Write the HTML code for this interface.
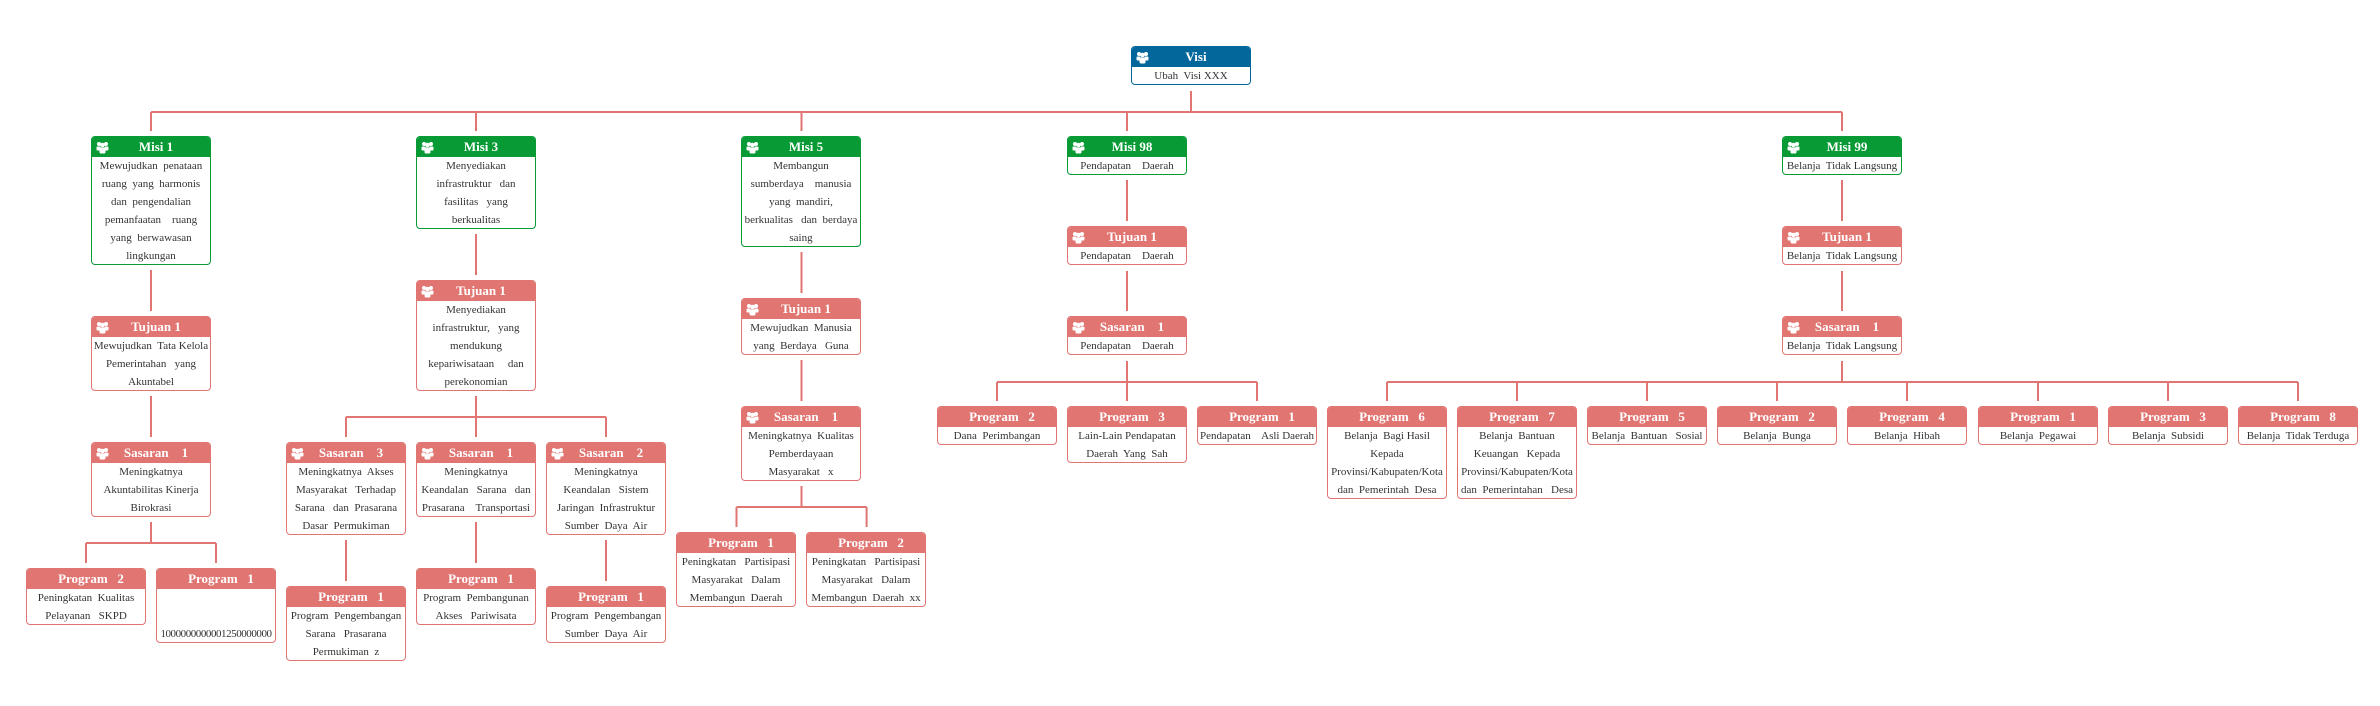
<!DOCTYPE html>
<html><head><meta charset="utf-8"><style>
html,body{margin:0;padding:0;background:#fff;}
body{width:2380px;height:706px;position:relative;overflow:hidden;font-family:"Liberation Serif",serif;}
.b{position:absolute;width:120px;box-sizing:border-box;border:1px solid #e07572;border-radius:4px;background:#fff;overflow:hidden;}
.h{height:20px;background:#e07572;color:#fff;font-weight:bold;font-size:13px;line-height:20px;text-align:center;position:relative;white-space:pre;padding-left:10px;}
.g{border-color:#079a35}.g .h{background:#079a35}
.v{border-color:#03679c}.v .h{background:#03679c}
.h svg{position:absolute;left:4px;top:4px}
.t{font-size:11px;line-height:18px;color:#333;text-align:center;white-space:pre;}
</style></head><body>
<svg width="2380" height="706" style="position:absolute;left:0;top:0" stroke="#e07572" stroke-width="2" fill="none">
<path d="M1191 91V112M151 112H1842M151 112V131M476 112V131M801.5 112V131M1127 112V131M1842 112V131"/>
<path d="M151 270V311M151 396V437M151 522V543M86 543H216M86 543V563M216 543V563"/>
<path d="M476 234V275M476 396V417M346 417H606M346 417V437M476 417V437M606 417V437M346 540V581M476 522V563M606 540V581"/>
<path d="M801.5 252V293M801.5 360V401M801.5 486V507M736.5 507H866.6M736.5 507V527M866.6 507V527"/>
<path d="M1127 180V221M1127 271V311M1127 361V382M997 382H1257M997 382V401M1127 382V401M1257 382V401"/>
<path d="M1842 180V221M1842 271V311M1842 361V382M1387 382H2298M1387 382V401M1517 382V401M1647 382V401M1777 382V401M1907 382V401M2038 382V401M2168 382V401M2298 382V401"/>
</svg>
<svg width="0" height="0" style="position:absolute"><defs><g id="ic" fill="#fff"><circle cx="3" cy="3" r="2"/><circle cx="10" cy="3" r="2"/><circle cx="6.5" cy="4" r="2.3"/><rect x="0.5" y="5.5" width="4" height="4" rx="1"/><rect x="8.5" y="5.5" width="4" height="4" rx="1"/><rect x="3.5" y="6.5" width="6" height="6" rx="1.5"/></g></defs></svg>

<div class="b v" style="left:1131px;top:46px;height:39px"><div class="h"><svg width="13" height="13"><use href="#ic"/></svg>Visi</div><div class="t">Ubah  Visi XXX</div></div>

<div class="b g" style="left:91px;top:136px;height:129px"><div class="h"><svg width="13" height="13"><use href="#ic"/></svg>Misi 1</div><div class="t">Mewujudkan  penataan
ruang  yang  harmonis
dan  pengendalian
pemanfaatan    ruang
yang  berwawasan
lingkungan</div></div>
<div class="b" style="left:91px;top:316px;height:75px"><div class="h"><svg width="13" height="13"><use href="#ic"/></svg>Tujuan 1</div><div class="t">Mewujudkan  Tata Kelola
Pemerintahan   yang
Akuntabel</div></div>
<div class="b" style="left:91px;top:442px;height:75px"><div class="h"><svg width="13" height="13"><use href="#ic"/></svg>Sasaran    1</div><div class="t">Meningkatnya
Akuntabilitas Kinerja
Birokrasi</div></div>
<div class="b" style="left:26px;top:568px;height:57px"><div class="h">Program   2</div><div class="t">Peningkatan  Kualitas
Pelayanan   SKPD</div></div>
<div class="b" style="left:156px;top:568px;height:75px"><div class="h">Program   1</div><div class="t" style="letter-spacing:-0.45px">

1000000000001250000000</div></div>

<div class="b g" style="left:416px;top:136px;height:93px"><div class="h"><svg width="13" height="13"><use href="#ic"/></svg>Misi 3</div><div class="t">Menyediakan
infrastruktur   dan
fasilitas   yang
berkualitas</div></div>
<div class="b" style="left:416px;top:280px;height:111px"><div class="h"><svg width="13" height="13"><use href="#ic"/></svg>Tujuan 1</div><div class="t">Menyediakan
infrastruktur,   yang
mendukung
kepariwisataan     dan
perekonomian</div></div>
<div class="b" style="left:286px;top:442px;height:93px"><div class="h"><svg width="13" height="13"><use href="#ic"/></svg>Sasaran    3</div><div class="t">Meningkatnya  Akses
Masyarakat   Terhadap
Sarana   dan  Prasarana
Dasar  Permukiman</div></div>
<div class="b" style="left:416px;top:442px;height:75px"><div class="h"><svg width="13" height="13"><use href="#ic"/></svg>Sasaran    1</div><div class="t">Meningkatnya
Keandalan   Sarana   dan
Prasarana    Transportasi</div></div>
<div class="b" style="left:546px;top:442px;height:93px"><div class="h"><svg width="13" height="13"><use href="#ic"/></svg>Sasaran    2</div><div class="t">Meningkatnya
Keandalan   Sistem
Jaringan  Infrastruktur
Sumber  Daya  Air</div></div>
<div class="b" style="left:286px;top:586px;height:75px"><div class="h">Program   1</div><div class="t">Program  Pengembangan
Sarana   Prasarana
Permukiman  z</div></div>
<div class="b" style="left:416px;top:568px;height:57px"><div class="h">Program   1</div><div class="t">Program  Pembangunan
Akses   Pariwisata</div></div>
<div class="b" style="left:546px;top:586px;height:57px"><div class="h">Program   1</div><div class="t">Program  Pengembangan
Sumber  Daya  Air</div></div>

<div class="b g" style="left:741px;top:136px;height:111px"><div class="h"><svg width="13" height="13"><use href="#ic"/></svg>Misi 5</div><div class="t">Membangun
sumberdaya    manusia
yang  mandiri,
berkualitas   dan  berdaya
saing</div></div>
<div class="b" style="left:741px;top:298px;height:57px"><div class="h"><svg width="13" height="13"><use href="#ic"/></svg>Tujuan 1</div><div class="t">Mewujudkan  Manusia
yang  Berdaya   Guna</div></div>
<div class="b" style="left:741px;top:406px;height:75px"><div class="h"><svg width="13" height="13"><use href="#ic"/></svg>Sasaran    1</div><div class="t">Meningkatnya  Kualitas
Pemberdayaan
Masyarakat   x</div></div>
<div class="b" style="left:676px;top:532px;height:75px"><div class="h">Program   1</div><div class="t">Peningkatan   Partisipasi
Masyarakat   Dalam
Membangun  Daerah</div></div>
<div class="b" style="left:806px;top:532px;height:75px"><div class="h">Program   2</div><div class="t">Peningkatan   Partisipasi
Masyarakat   Dalam
Membangun  Daerah  xx</div></div>

<div class="b g" style="left:1067px;top:136px;height:39px"><div class="h"><svg width="13" height="13"><use href="#ic"/></svg>Misi 98</div><div class="t">Pendapatan    Daerah</div></div>
<div class="b" style="left:1067px;top:226px;height:39px"><div class="h"><svg width="13" height="13"><use href="#ic"/></svg>Tujuan 1</div><div class="t">Pendapatan    Daerah</div></div>
<div class="b" style="left:1067px;top:316px;height:39px"><div class="h"><svg width="13" height="13"><use href="#ic"/></svg>Sasaran    1</div><div class="t">Pendapatan    Daerah</div></div>
<div class="b" style="left:937px;top:406px;height:39px"><div class="h">Program   2</div><div class="t">Dana  Perimbangan</div></div>
<div class="b" style="left:1067px;top:406px;height:57px"><div class="h">Program   3</div><div class="t">Lain-Lain Pendapatan
Daerah  Yang  Sah</div></div>
<div class="b" style="left:1197px;top:406px;height:39px"><div class="h">Program   1</div><div class="t">Pendapatan    Asli Daerah</div></div>

<div class="b g" style="left:1782px;top:136px;height:39px"><div class="h"><svg width="13" height="13"><use href="#ic"/></svg>Misi 99</div><div class="t">Belanja  Tidak Langsung</div></div>
<div class="b" style="left:1782px;top:226px;height:39px"><div class="h"><svg width="13" height="13"><use href="#ic"/></svg>Tujuan 1</div><div class="t">Belanja  Tidak Langsung</div></div>
<div class="b" style="left:1782px;top:316px;height:39px"><div class="h"><svg width="13" height="13"><use href="#ic"/></svg>Sasaran    1</div><div class="t">Belanja  Tidak Langsung</div></div>
<div class="b" style="left:1327px;top:406px;height:93px"><div class="h">Program   6</div><div class="t">Belanja  Bagi Hasil
Kepada
Provinsi/Kabupaten/Kota
dan  Pemerintah  Desa</div></div>
<div class="b" style="left:1457px;top:406px;height:93px"><div class="h">Program   7</div><div class="t">Belanja  Bantuan
Keuangan   Kepada
Provinsi/Kabupaten/Kota
dan  Pemerintahan   Desa</div></div>
<div class="b" style="left:1587px;top:406px;height:39px"><div class="h">Program   5</div><div class="t">Belanja  Bantuan   Sosial</div></div>
<div class="b" style="left:1717px;top:406px;height:39px"><div class="h">Program   2</div><div class="t">Belanja  Bunga</div></div>
<div class="b" style="left:1847px;top:406px;height:39px"><div class="h">Program   4</div><div class="t">Belanja  Hibah</div></div>
<div class="b" style="left:1978px;top:406px;height:39px"><div class="h">Program   1</div><div class="t">Belanja  Pegawai</div></div>
<div class="b" style="left:2108px;top:406px;height:39px"><div class="h">Program   3</div><div class="t">Belanja  Subsidi</div></div>
<div class="b" style="left:2238px;top:406px;height:39px"><div class="h">Program   8</div><div class="t">Belanja  Tidak Terduga</div></div>
</body></html>
